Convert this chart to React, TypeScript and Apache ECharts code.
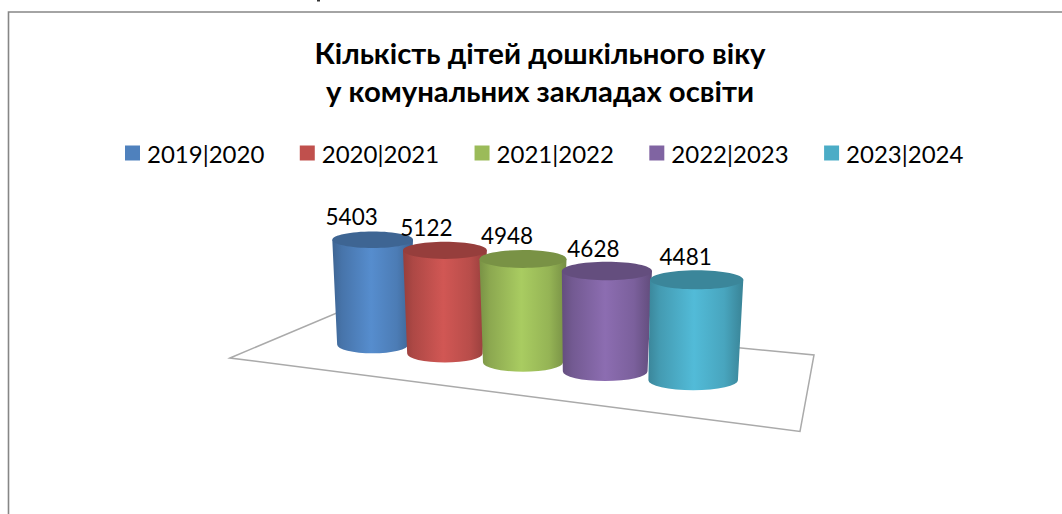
import React, { useEffect, useRef } from "react";
import * as echarts from "echarts";

const categories = ["2019|2020", "2020|2021", "2021|2022", "2022|2023", "2023|2024"];
const values = [5403, 5122, 4948, 4628, 4481];
const colors = ["#4F81BD", "#C0504D", "#9BBB59", "#8064A2", "#4BACC6"];
const titleText = "Кількість дітей дошкільного віку\nу комунальних закладах освіти";
const FONT = "Lato, 'Noto Sans', sans-serif";

function shade(hex: string, f: number) {
  const n = parseInt(hex.slice(1), 16);
  const c = [(n >> 16) & 255, (n >> 8) & 255, n & 255].map((v) => Math.min(255, Math.round(v * f)));
  return `rgb(${c[0]},${c[1]},${c[2]})`;
}

function renderCylinder(_params: any, api: any) {
  const i = api.value(0);
  const v = api.value(1);
  const color = api.visual("color");
  const u = i - 2;
  const persp = 1 + 0.036 * u;
  const p0 = api.coord([i, 0]);
  const pv = api.coord([i, v]);
  const mid = api.coord([2, 0])[0];
  const cxTop = mid + (p0[0] - mid) * persp;
  const base = p0[1] + 8.9 * u;
  const top = base - (p0[1] - pv[1]) * persp;
  const rx = 43.5 * persp;
  const ry = rx * 0.205;
  const rxB = rx * (0.88 + 0.02 * i);
  const ryB = ry * 1.05;
  const cxB = cxTop - Math.max(0, u) * 1.75;
  const d = `M${cxTop - rx} ${top}L${cxTop + rx} ${top}L${cxB + rxB} ${base}A${rxB} ${ryB} 0 0 1 ${cxB - rxB} ${base}Z`;
  const grad = new echarts.graphic.LinearGradient(0, 0, 1, 0, [
    { offset: 0, color: shade(color, 0.78) },
    { offset: 0.12, color: shade(color, 0.9) },
    { offset: 0.48, color: shade(color, 1.09) },
    { offset: 0.8, color: shade(color, 0.96) },
    { offset: 1, color: shade(color, 0.76) },
  ]);
  return {
    type: "group",
    children: [
      { type: "path", shape: { pathData: d }, style: { fill: grad } },
      { type: "ellipse", shape: { cx: cxTop, cy: top, rx, ry }, style: { fill: shade(color, 0.78) } },
      {
        type: "text",
        style: {
          text: String(v),
          x: cxTop - 21 + 2.5 * i,
          y: top - 23,
          align: "center",
          verticalAlign: "middle",
          fill: "#000",
          font: `22.5px ${FONT}`,
        },
      },
    ],
  };
}

export default function App() {
  const ref = useRef<HTMLDivElement>(null);
  useEffect(() => {
    const chart = echarts.init(ref.current!, undefined, { renderer: "svg" });
    chart.setOption({
      animation: false,
      backgroundColor: "#fff",
      title: {
        text: titleText,
        left: 535,
        top: 28,
        textAlign: "center",
        textStyle: { fontFamily: FONT, fontWeight: "bold", fontSize: 29.3, lineHeight: 38, color: "#000" },
      },
      legend: {
        left: 125,
        top: 141,
        icon: "rect",
        itemWidth: 15,
        itemHeight: 15,
        itemGap: 35.4,
        padding: 0,
        data: categories,
        textStyle: { fontFamily: FONT, fontSize: 24, color: "#000", padding: [0, 0, 0, 2] },
      },
      grid: { left: 320.5, width: 405, top: 237, height: 125.4 },
      xAxis: { type: "category", data: categories, show: false },
      yAxis: { type: "value", min: 0, max: 6000, show: false },
      graphic: {
        elements: [
          {
            type: "polyline",
            silent: true,
            shape: { points: [[8.5, 514], [8.5, 12], [1062, 12]] },
            style: { stroke: "#868686", lineWidth: 1.6, fill: "none" },
          },
          {
            type: "polygon",
            silent: true,
            shape: { points: [[230, 358], [345, 309.5], [814, 355], [800, 431.5]] },
            style: { stroke: "#aaaaaa", lineWidth: 1.5, fill: "none" },
          },
          { type: "rect", silent: true, shape: { x: 317, y: 0, width: 3, height: 1.5 }, style: { fill: "#333" } },
        ],
      },
      series: categories.map((name, i) => ({
        type: "custom",
        name,
        clip: false,
        itemStyle: { color: colors[i] },
        renderItem: renderCylinder,
        data: [[i, values[i]]],
      })),
    });
    return () => chart.dispose();
  }, []);
  return <div ref={ref} style={{ position: "absolute", left: 0, top: 0, width: 1062, height: 514 }} />;
}
